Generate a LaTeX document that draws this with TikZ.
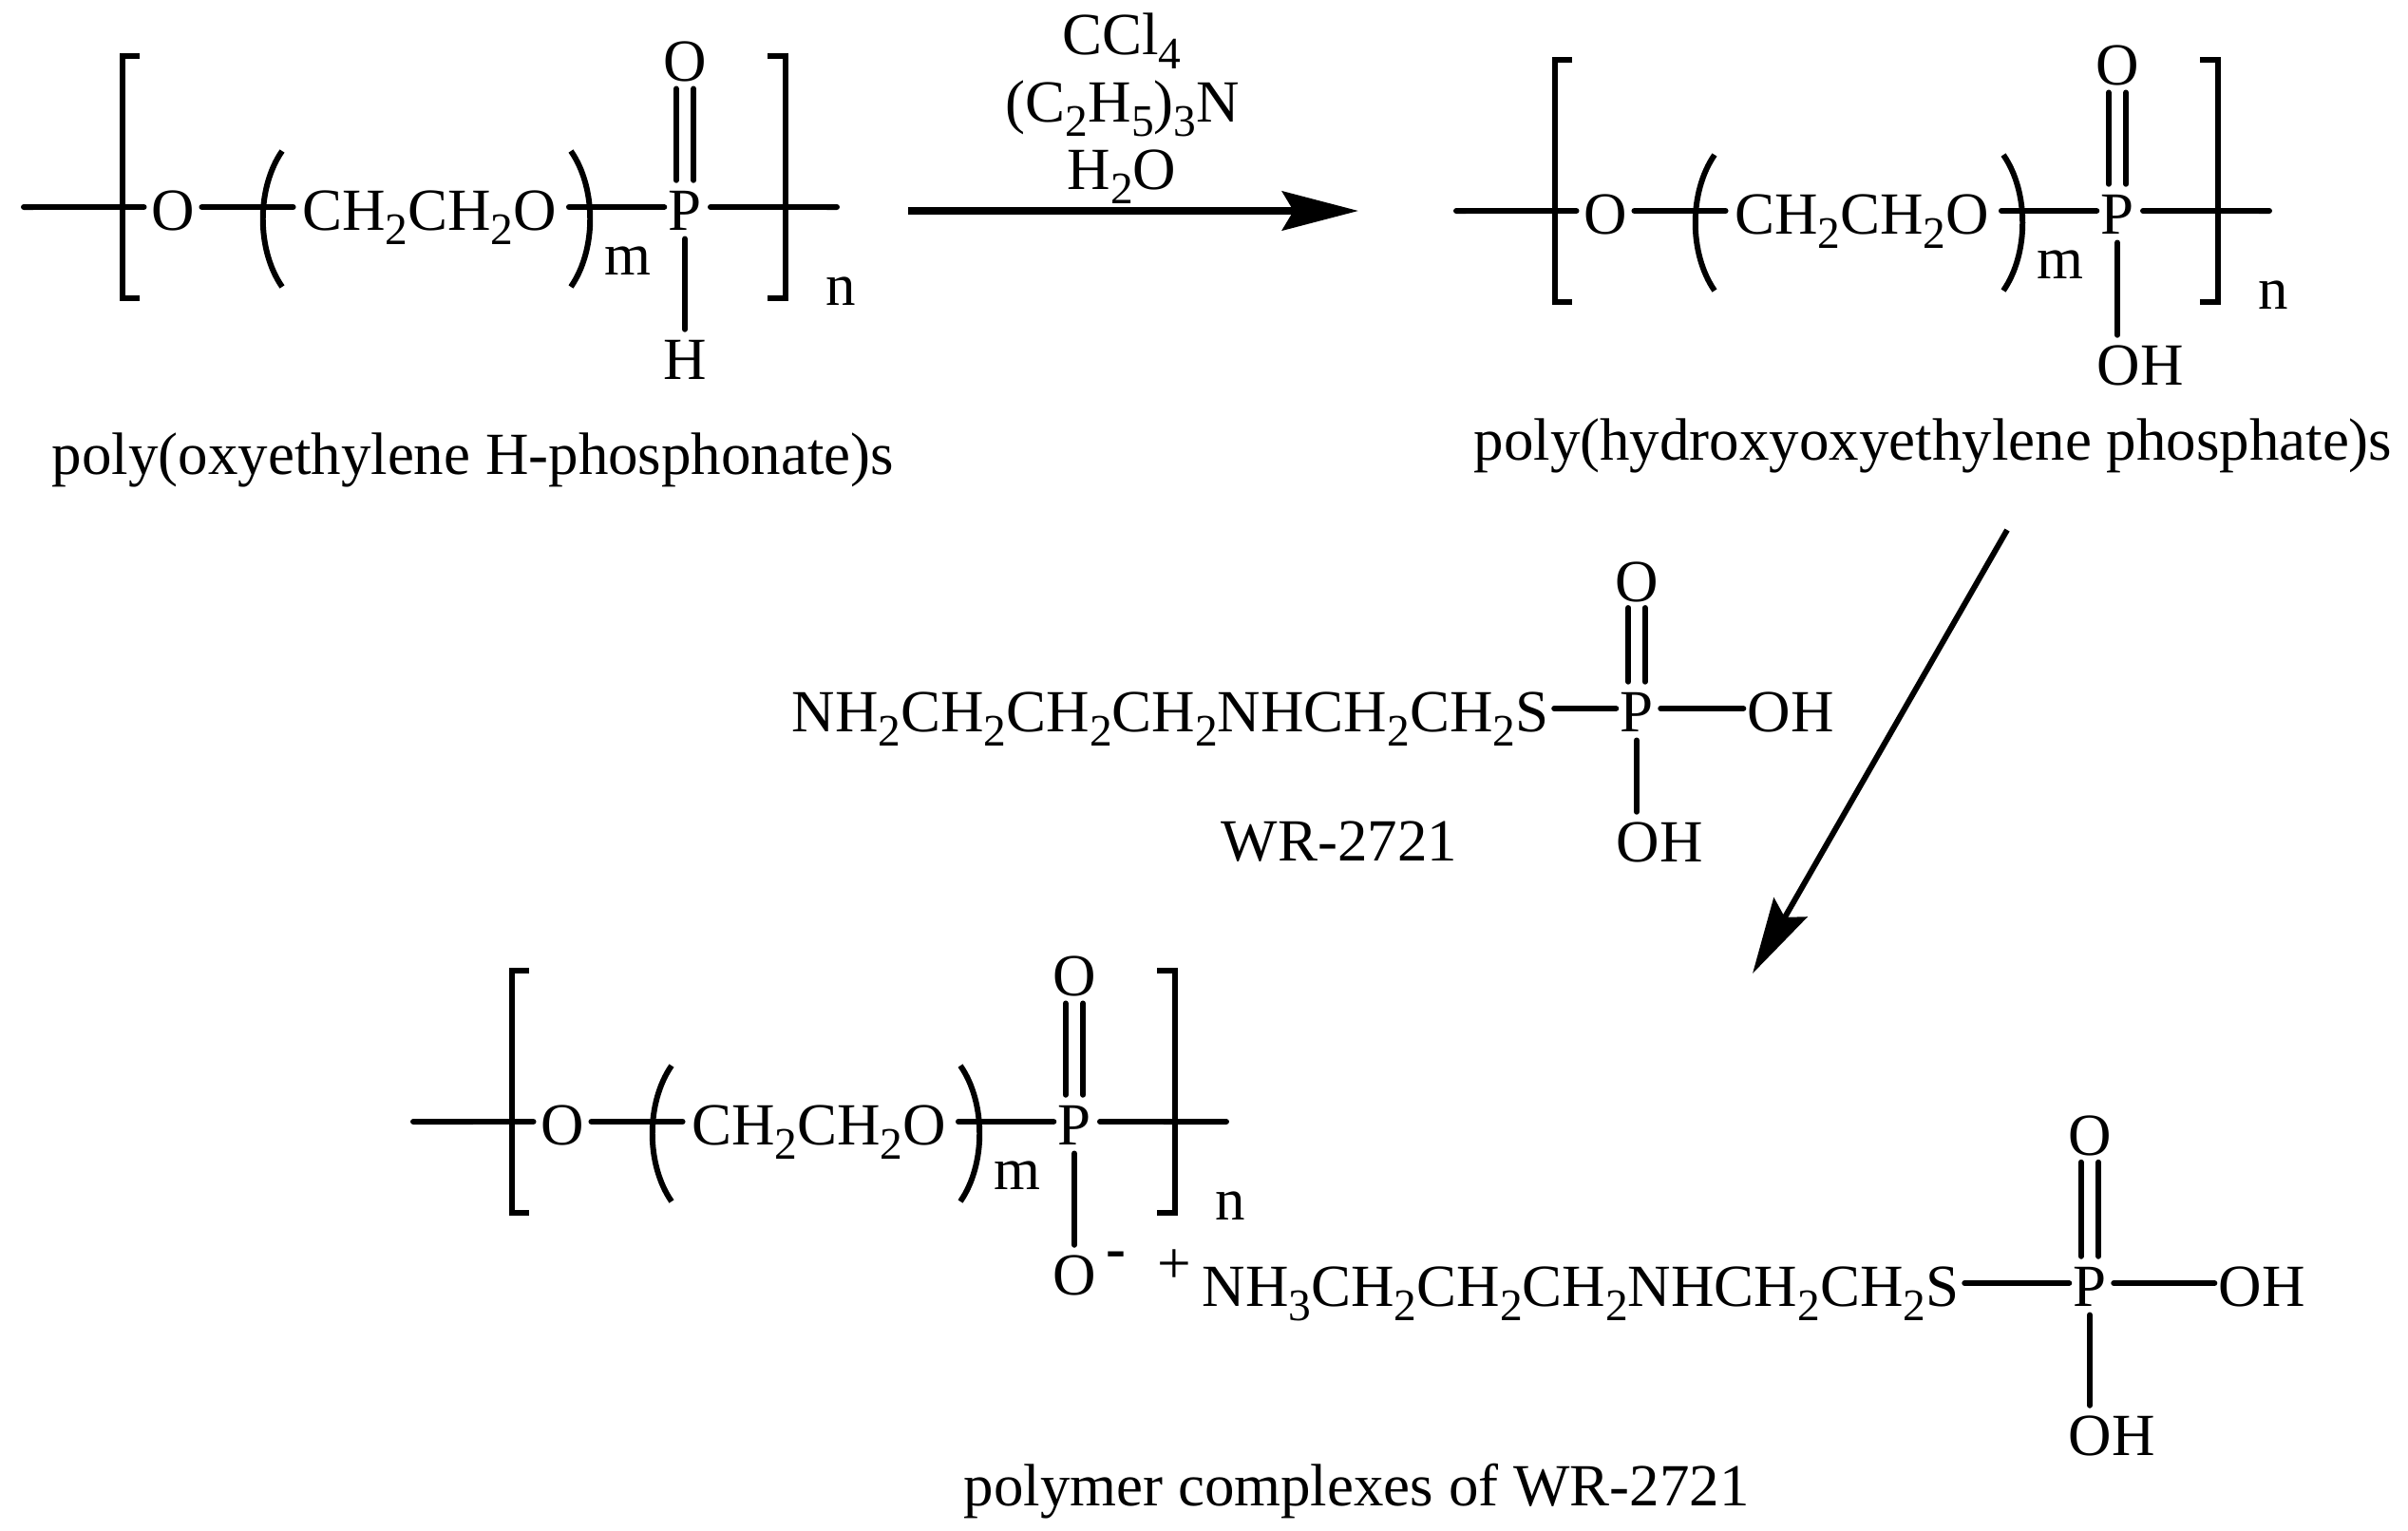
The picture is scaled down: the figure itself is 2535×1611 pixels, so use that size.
\documentclass[tikz,border=0pt]{standalone}
\usepackage{fontspec}
\setmainfont{Liberation Serif}
\usetikzlibrary{arrows.meta}
\newcommand{\lsub}[1]{\raisebox{-4.4pt}{\fontsize{13.5}{13.5}\selectfont #1}}
\tikzset{
  chem/.style={anchor=base,inner sep=1pt,text height=13.66pt,text depth=0pt,font=\fontsize{17.9}{20}\selectfont},
  lab/.style={anchor=base,inner sep=0pt,font=\fontsize{17.9}{20}\selectfont},
  bond/.style={line width=1.7pt,line cap=round},
  frame/.style={line width=1.7pt,line join=miter}
}
\begin{document}
\begin{tikzpicture}[x=0.01cm,y=-0.01cm]
\useasboundingbox (0,0) rectangle (2535,1611);
\foreach \un/\dx/\dy in {a/0/0,b/1508/4,c/410/963}{
\begin{scope}[shift={(\dx,\dy)}]
\coordinate (\un left) at (25,218);
\coordinate (\un right) at (881,218);
\node [chem] (\un oxy) at (182,242) {O};
\node [chem] (\un chain) at (452,242) {CH\lsub{2}CH\lsub{2}O};
\node [chem] (\un phos) at (721,242) {P};
\node [chem] (\un oxo) at (721,85) {O};
\node [lab] (\un m) at (661,289) {m};
\node [lab] (\un n) at (885,321) {n};
\draw [bond] (\un left) -- ([xshift=-1pt]\un oxy.west);
\draw [bond] ([xshift=1pt]\un oxy.east) -- ([xshift=-1.5pt]\un chain.west);
\draw [bond] ([xshift=2.5pt]\un chain.east) -- (\un phos.west);
\draw [bond] ([xshift=1.5pt]\un phos.east) -- (\un right);
\draw [bond,shorten >=1.2pt] ([xshift=-2.6pt]\un phos.north) -- ([xshift=-2.6pt]\un oxo.south);
\draw [bond,shorten >=1.2pt] ([xshift=2.6pt]\un phos.north) -- ([xshift=2.6pt]\un oxo.south);
\draw [frame] (147,59) -- (129,59) -- (129,314) -- (147,314);
\draw [frame] (808,59) -- (827,59) -- (827,314) -- (808,314);
\draw [frame] (297,159) .. controls (270,198) and (270,263) .. (297,302);
\draw [frame] (601,159) .. controls (628,198) and (628,263) .. (601,302);
\end{scope}
}
\node [chem] (ahyd) at (721,399) {H};
\draw [bond,shorten <=1.5pt] (aphos.south) -- (ahyd.north);
\node [lab] (acap) at (498,499) {poly(oxyethylene H-phosphonate)s};
\node [chem] (boh) at (2253,405) {OH};
\draw [bond,shorten <=1.5pt] (bphos.south) -- (bphos.south |- boh.north);
\node [lab] (bcap) at (2035,484) {poly(hydroxyoxyethylene phosphate)s};
\node [lab] (ccl) at (1181,57) {CCl\lsub{4}};
\node [lab] (tea) at (1182,128) {(C\lsub{2}H\lsub{5})\lsub{3}N};
\node [lab] (water) at (1181,199) {H\lsub{2}O};
\coordinate (reactstart) at (956,222);
\coordinate (reactend) at (1430,222);
\draw [-{Stealth[length=22.8pt,width=11.7pt,inset=3.4pt]},line width=2pt] (reactstart) -- (reactend);
\coordinate (addstart) at (2113,558);
\coordinate (addend) at (1845,1025);
\draw [-{Stealth[length=22.8pt,width=11.5pt,inset=3.4pt]},line width=1.7pt] (addstart) -- (addend);
\node [chem] (wchain) at (1232,770) {NH\lsub{2}CH\lsub{2}CH\lsub{2}CH\lsub{2}NHCH\lsub{2}CH\lsub{2}S};
\node [chem] (wphos) at (1723,770) {P};
\node [chem] (woxo) at (1723,633) {O};
\node [chem] (wohr) at (1885,770) {OH};
\node [chem] (wohb) at (1747,907) {OH};
\node [lab] (wname) at (1410,906) {WR-2721};
\draw [bond] ([xshift=.5pt]wchain.east) -- (wphos.west);
\draw [bond] ([xshift=1pt]wphos.east) -- (wohr.west);
\draw [bond,shorten >=.8pt] ([xshift=-2.5pt]wphos.north) -- ([xshift=-2.5pt]woxo.south);
\draw [bond,shorten >=.8pt] ([xshift=2.5pt]wphos.north) -- ([xshift=2.5pt]woxo.south);
\draw [bond,shorten <=1.5pt] (wphos.south) -- (wphos.south |- wohb.north);
\node [chem] (coxi) at (1131,1363) {O};
\node [lab,font=\fontsize{17.9}{20}\selectfont\bfseries] (minus) at (1175,1335) {-};
\node [lab,font=\fontsize{18}{20}\selectfont] (plus) at (1236,1351) {+};
\draw [bond,shorten <=1.5pt] (cphos.south) -- (coxi.north);
\node [chem] (cchain) at (1664,1375) {NH\lsub{3}CH\lsub{2}CH\lsub{2}CH\lsub{2}NHCH\lsub{2}CH\lsub{2}S};
\node [chem] (cpend) at (2200,1375) {P};
\node [chem] (coxo) at (2200,1216) {O};
\node [chem] (cohr) at (2381,1375) {OH};
\node [chem] (cohb) at (2223,1532) {OH};
\node [lab] (ccap) at (1428,1585) {polymer complexes of WR-2721};
\draw [bond] ([xshift=.5pt]cchain.east) -- (cpend.west);
\draw [bond] ([xshift=1pt]cpend.east) -- (cohr.west);
\draw [bond,shorten >=1pt] ([xshift=-2.6pt]cpend.north) -- ([xshift=-2.6pt]coxo.south);
\draw [bond,shorten >=1pt] ([xshift=2.6pt]cpend.north) -- ([xshift=2.6pt]coxo.south);
\draw [bond,shorten <=1.5pt] (cpend.south) -- (cpend.south |- cohb.north);
\end{tikzpicture}
\end{document}
